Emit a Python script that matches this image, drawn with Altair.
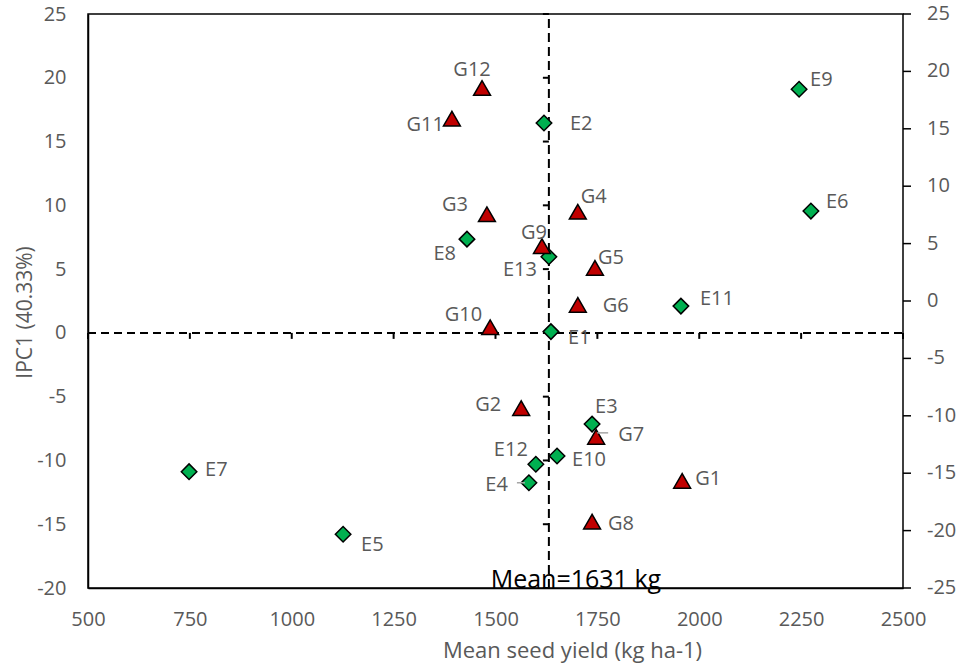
import altair as alt
import pandas as pd

# ---------------- data ----------------
names = ["E1", "E2", "E3", "E4", "E5", "E6", "E7", "E8", "E9", "E10", "E11", "E12", "E13",
         "G1", "G2", "G3", "G4", "G5", "G6", "G7", "G8", "G9", "G10", "G11", "G12"]
kinds = ["E"] * 13 + ["G"] * 12
mean_yield = [1636, 1619, 1737, 1582, 1126, 2274, 748, 1430, 2245, 1651, 1955, 1599, 1631,
              1958, 1563, 1479, 1702, 1744, 1702, 1747, 1737, 1614, 1487, 1393, 1467]
ipc1 = [0.1, 16.45, -7.15, -11.75, -15.79, 9.55, -10.88, 7.35, 19.1, -9.65, 2.1, -10.3, 5.97,
        -11.6, -5.9, 9.3, 9.5, 5.1, 2.2, -8.15, -14.8, 6.8, 0.44, 16.8, 19.2]

grand_mean = 1631
x_ticks = [500, 750, 1000, 1250, 1500, 1750, 2000, 2250, 2500]
y_ticks_left = [-20, -15, -10, -5, 0, 5, 10, 15, 20, 25]
y_ticks_right = [-25, -20, -15, -10, -5, 0, 5, 10, 15, 20, 25]

# ---------------- label placement (style, pixels) ----------------
label_style = {  # name: (align, dx, dy)
    "E1": ("left", 17, 6), "E2": ("left", 26, 1), "E3": ("left", 3, -17),
    "E4": ("right", -21, 2), "E5": ("left", 18, 11), "E6": ("left", 15, -9),
    "E7": ("left", 16, -2), "E8": ("right", -11, 15), "E9": ("left", 11, -9),
    "E10": ("left", 15, 4), "E11": ("left", 19, -7), "E12": ("right", -8, -14),
    "E13": ("right", -12, 13), "G1": ("left", 13, -2), "G2": ("right", -20, -3),
    "G3": ("right", -19, -9), "G4": ("left", 3, -15), "G5": ("left", 3, -10),
    "G6": ("left", 25, 1), "G7": ("left", 22, -2), "G8": ("left", 16, 2),
    "G9": ("center", -8, -13), "G10": ("right", -8, -12), "G11": ("right", -8, 6),
    "G12": ("center", -10, -18),
}

df = pd.DataFrame({"name": names, "kind": kinds, "yield": mean_yield, "ipc1": ipc1})

GRAY = "#595959"
FONT = "Open Sans"
W, H = 815, 574
X_MIN, X_MAX = 500, 2500
LEFT_MIN, LEFT_MAX = -20, 25
RIGHT_MIN, RIGHT_MAX = -25, 25
ratio = (LEFT_MAX - LEFT_MIN) / (RIGHT_MAX - RIGHT_MIN)

xscale = alt.Scale(domain=[X_MIN, X_MAX], nice=False, zero=False)
yscale = alt.Scale(domain=[LEFT_MIN, LEFT_MAX], nice=False, zero=False)

x_axis = alt.Axis(
    values=x_ticks, ticks=False, grid=False, domainColor="black", domainWidth=1.5,
    labelFont=FONT, labelFontSize=20, labelColor=GRAY, labelPadding=21, labelFlush=False,
    labelExpr="datum.value + ''",
    title="Mean seed yield (kg ha-1)", titleFont=FONT, titleFontSize=22, titleColor=GRAY,
    titleFontWeight="normal", titleX=484, titleY=62, titleAlign="center",
    titleBaseline="middle",
)
y_axis = alt.Axis(
    values=y_ticks_left, ticks=False, grid=False, domainColor="black", domainWidth=1.5,
    labelFont=FONT, labelFontSize=20, labelColor=GRAY, labelPadding=22, labelFlush=False,
    labelExpr="datum.value + ''",
    title="IPC1 (40.33%)", titleFont=FONT, titleFontSize=21, titleColor=GRAY,
    titleFontWeight="normal", titleX=-63, titleY=298, titleAngle=270, titleAlign="center",
    titleBaseline="middle",
)

X = lambda f: alt.X(f, type="quantitative", scale=xscale, axis=x_axis)
Y = lambda f: alt.Y(f, type="quantitative", scale=yscale, axis=y_axis)

base = alt.Chart(df)

# dashed cross lines
hline = alt.Chart(pd.DataFrame({"a": [X_MIN], "b": [X_MAX], "v": [0]})).mark_rule(
    color="black", strokeWidth=2, strokeDash=[8, 5]
).encode(x=X("a"), x2="b", y=Y("v"))
vline = alt.Chart(pd.DataFrame({"v": [grand_mean], "a": [LEFT_MIN], "b": [LEFT_MAX]})).mark_rule(
    color="black", strokeWidth=2, strokeDash=[9, 5]
).encode(x=X("v"), y=Y("a"), y2="b")
# small tick marks along the cross lines
hticks = alt.Chart(pd.DataFrame({"v": x_ticks, "z": [0] * len(x_ticks)})).mark_rule(
    color="black", strokeWidth=2, y2Offset=6
).encode(x=X("v"), y=Y("z"), y2="z")
vticks = alt.Chart(pd.DataFrame({"v": y_ticks_left, "m": [grand_mean] * len(y_ticks_left)})).mark_rule(
    color="black", strokeWidth=2, x2Offset=-6
).encode(y=Y("v"), x=X("m"), x2="m")

# secondary (right) axis: -25..25 over the same plot height, drawn as ticks + text
right_df = pd.DataFrame({
    "pos": [LEFT_MAX - ratio * (RIGHT_MAX - r) for r in y_ticks_right],
    "lab": [str(r) for r in y_ticks_right],
    "xr": [X_MAX] * len(y_ticks_right),
})
right_ticks = alt.Chart(right_df).mark_rule(color="black", strokeWidth=1.5, x2Offset=8).encode(
    x=X("xr"), x2="xr", y=Y("pos"))
right_labels = alt.Chart(right_df).mark_text(
    align="left", baseline="middle", font=FONT, fontSize=20, color=GRAY, dx=24
).encode(x=X("xr"), y=Y("pos"), text="lab:N")

diamonds = base.transform_filter(alt.datum.kind == "E").mark_point(
    shape="diamond", size=240, filled=True, fill="#00B050", stroke="black", strokeWidth=1.5, opacity=1
).encode(x=X("yield"), y=Y("ipc1"))
triangles = base.transform_filter(alt.datum.kind == "G").mark_point(
    shape="triangle-up", size=285, filled=True, fill="#C00000", stroke="black", strokeWidth=1.5, opacity=1
).encode(x=X("yield"), y=Y("ipc1"))

# leader lines for E4 and G7
lead_e4 = base.transform_filter(alt.datum.name == "E4").mark_rule(
    color="#A6A6A6", strokeWidth=1.5, xOffset=-12, x2Offset=-4
).encode(x=X("yield"), x2="yield", y=Y("ipc1"))
lead_g7 = base.transform_filter(alt.datum.name == "G7").mark_rule(
    color="#A6A6A6", strokeWidth=1.5, xOffset=1, x2Offset=12, yOffset=-4
).encode(x=X("yield"), x2="yield", y=Y("ipc1"))

label_layers = []
for n in names:
    align, dx, dy = label_style[n]
    label_layers.append(
        base.transform_filter(alt.datum.name == n).mark_text(
            align=align, baseline="middle", font=FONT, fontSize=20, color=GRAY, dx=dx, dy=dy
        ).encode(x=X("yield"), y=Y("ipc1"), text="name:N")
    )

mean_text = alt.Chart(pd.DataFrame({"v": [grand_mean], "b": [LEFT_MIN]})).mark_text(
    text=f"Mean={grand_mean} kg", font=FONT, fontSize=25, color="black",
    align="center", baseline="alphabetic", dx=27
).encode(x=X("v"), y=Y("b"))

chart = alt.layer(
    hline, vline, hticks, vticks, right_ticks, right_labels,
    diamonds, triangles, lead_e4, lead_g7, *label_layers, mean_text,
).properties(
    width=W, height=H,
    autosize=alt.AutoSizeParams(type="none"),
    padding={"left": 88, "top": 14, "right": 58, "bottom": 75},
    background="white",
).configure_view(stroke="black", strokeWidth=1.5)

chart.save("out.html", embed_options={"renderer": "svg", "actions": False})
